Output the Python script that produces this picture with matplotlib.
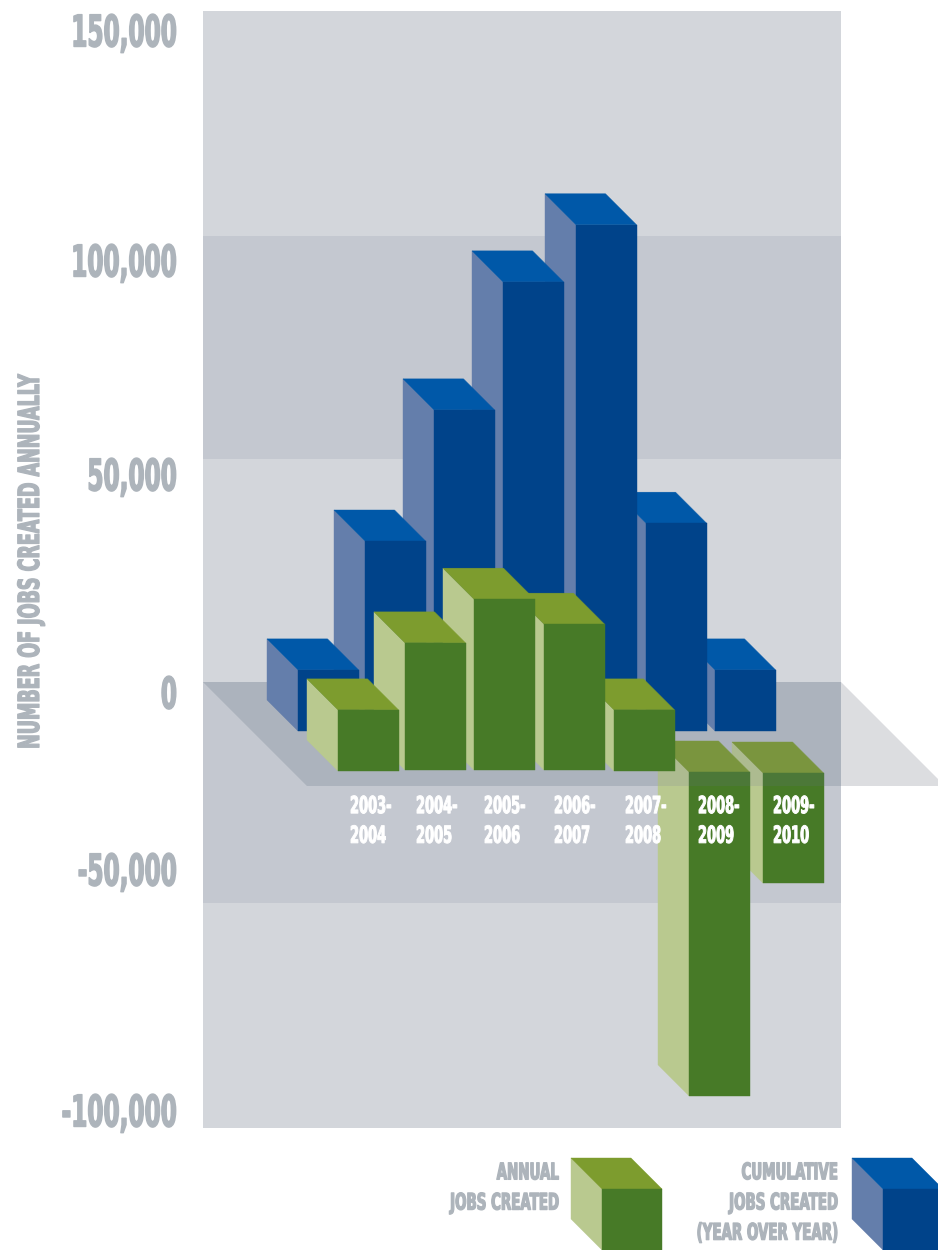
import matplotlib
matplotlib.use("Agg")
import matplotlib.pyplot as plt
import matplotlib.patheffects as pe
from matplotlib.patches import Polygon, Rectangle
from matplotlib.transforms import Affine2D

# Data
years = ["2003-\n2004", "2004-\n2005", "2005-\n2006", "2006-\n2007",
         "2007-\n2008", "2008-\n2009", "2009-\n2010"]
cumulative = [13700, 42600, 72000, 100700, 113500, 46600, 13700]
annual = [13700, 28500, 38300, 32700, 13700, -72600, -24700]
tick_values = [150000, 100000, 50000, 0, -50000, -100000]
band_edges = [150500, 100000, 50000, 0, -49500, -100000]

# Layout, in picture pixels
W, H = 938, 1250
ZERO_PX = 682
JOBS_PER_PX = 50000 / 223
DEPTH = 31
BAR_W = 60.5
blue_left = [298, 365, 434, 503, 576, 646, 715]
green_left = [338, 405, 474, 544, 614, 689, 763]
blue_base = 731
green_base = [771, 770, 770, 770, 771, 772, 773]
tick_label_px = [34, 264, 478, 696, 873, 1114]
year_label_left = [350, 416, 484, 554, 625, 698, 773]

BLUE = ("#00438a", "#0058a8", "#647eab")
GREEN = ("#477a27", "#7d9c2e", "#b9c98f")
BAND_LIGHT = "#d3d6db"
BAND_DARK = "#c4c8d0"
# floor base + tint together give #adb4bb on the plot area
FLOOR_BASE = "#b8c0c3"
FLOOR_TINT = "#6a6f9c"
FLOOR_OUT = "#dcdde0"
TEXT_GREY = "#adb4bb"


def py(px):
    # picture row -> jobs value
    return (ZERO_PX - px) * JOBS_PER_PX


class Squeeze(pe.AbstractPathEffect):
    # narrows the glyphs around an anchor, there is no heavy condensed font here
    def __init__(self, sx=1.0, sy=1.0, anchor=(0, 0), lw=0.7):
        super().__init__()
        self.sx, self.sy, self.anchor, self.lw = sx, sy, anchor, lw

    def transform(self):
        ax_, ay_ = self.anchor
        return Affine2D().translate(-ax_, -ay_).scale(self.sx, self.sy).translate(ax_, ay_)

    def draw_path(self, renderer, gc, tpath, affine, rgbFace=None):
        gc0 = renderer.new_gc()
        gc0.copy_properties(gc)
        gc0.set_linewidth(self.lw)
        gc0.set_foreground(rgbFace)
        renderer.draw_path(gc0, tpath, affine + self.transform(), rgbFace)
        gc0.restore()


def squeeze_text(t, effect):
    t.set_path_effects([effect])
    # extent should report the narrowed glyphs, not the layout box
    full_extent = t.get_window_extent

    def extent(renderer=None, dpi=None):
        return full_extent(renderer, dpi).transformed(effect.transform())

    t.get_window_extent = extent


def label(ax, x_px, y_px, s, size, sx, ha="left", color=TEXT_GREY, linespacing=1.2, lw=0.7):
    t = ax.text(x_px, py(y_px), s, fontsize=size, fontweight="bold", family="DejaVu Sans",
                color=color, ha=ha, va="center", ma=ha, linespacing=linespacing, zorder=20)
    squeeze_text(t, Squeeze(sx=sx, anchor=(x_px, 0), lw=lw))
    return t


def cube(ax, left, base_px, value, colors, z, width=BAR_W):
    base = py(base_px)
    end = base + value
    top, bottom = max(base, end), min(base, end)
    d = DEPTH * JOBS_PER_PX
    front, lid, side = colors
    right = left + width
    back = left - DEPTH
    ax.add_patch(Polygon([(back, bottom + d), (left, bottom), (left, top), (back, top + d)],
                         fc=side, ec=side, lw=0.3, zorder=z))
    ax.add_patch(Polygon([(back, top + d), (back + width, top + d), (right, top), (left, top)],
                         fc=lid, ec=lid, lw=0.3, zorder=z))
    ax.add_patch(Rectangle((left, bottom), width, top - bottom, fc=front, ec=front, lw=0.3, zorder=z))


fig = plt.figure(figsize=(W / 100, H / 100), dpi=100)
ax = fig.add_axes([0, 0, 1, 1])
ax.set_xlim(0, W)
ax.set_ylim(py(H), py(0))
ax.axis("off")

# Backdrop bands
for i in range(len(band_edges) - 1):
    c = BAND_DARK if i in (1, 3) else BAND_LIGHT
    ax.add_patch(Rectangle((203, band_edges[i + 1]), 638, band_edges[i] - band_edges[i + 1],
                           fc=c, ec="none", zorder=1))

# Floor plane
floor_back, floor_front = py(682), py(786)
floor_pts = [(203, floor_back), (841, floor_back), (841, floor_front), (307, floor_front)]
ax.add_patch(Polygon(floor_pts, fc=FLOOR_BASE, ec="none", zorder=2))
ax.add_patch(Polygon([(841, floor_back), (945, floor_front), (841, floor_front)],
                     fc=FLOOR_OUT, ec="none", zorder=2))

# Negative annual bars hang below the floor, which shows faintly over them
for i in range(len(annual) - 1, -1, -1):
    if annual[i] < 0:
        cube(ax, green_left[i], green_base[i], annual[i], GREEN, z=3)
ax.add_patch(Polygon(floor_pts, fc=FLOOR_TINT, ec="none", alpha=0.15, zorder=4))

# Far row (cumulative), then near row (annual), right to left
for i in range(len(cumulative) - 1, -1, -1):
    cube(ax, blue_left[i], blue_base, cumulative[i], BLUE, z=5 + (len(cumulative) - i) * 0.1)
for i in range(len(annual) - 1, -1, -1):
    if annual[i] >= 0:
        cube(ax, green_left[i], green_base[i], annual[i], GREEN, z=7 + (len(annual) - i) * 0.1)

# Axis text
for v, y_px in zip(tick_values, tick_label_px):
    label(ax, 177, y_px, f"{v:,}", 31.5, 0.53, ha="right", lw=1.0)

t = ax.text(31, py(562), "NUMBER OF JOBS CREATED ANNUALLY", fontsize=21, fontweight="bold",
            family="DejaVu Sans", color=TEXT_GREY, rotation=90, ha="center", va="center", zorder=20)
squeeze_text(t, Squeeze(sy=0.6, anchor=(0, H - 562), lw=0.9))

for name, x_px in zip(years, year_label_left):
    label(ax, x_px, 821, name, 17, 0.55, color="white", linespacing=1.3)

# Legend
label(ax, 559, 1188, "ANNUAL\nJOBS CREATED", 16.5, 0.585, ha="right", linespacing=1.4, lw=0.9)
cube(ax, 602, 1250, 61 * JOBS_PER_PX, GREEN, z=10, width=60)
label(ax, 838, 1203, "CUMULATIVE\nJOBS CREATED\n(YEAR OVER YEAR)", 16.5, 0.585, ha="right", linespacing=1.4, lw=0.9)
cube(ax, 883, 1250, 61 * JOBS_PER_PX, BLUE, z=10, width=60)

fig.savefig("out.png", dpi=100)
